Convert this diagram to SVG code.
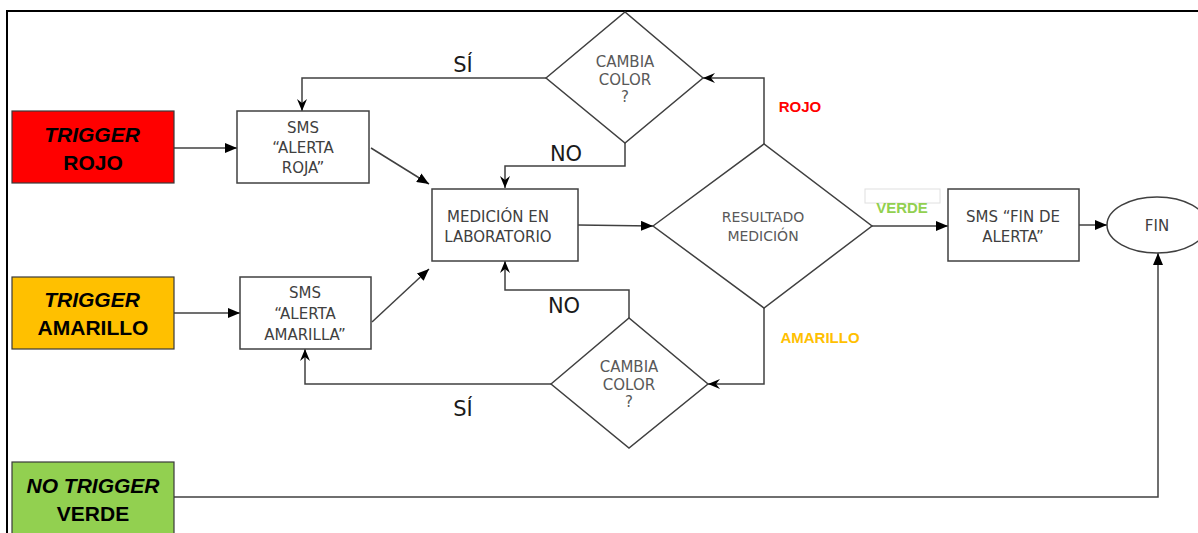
<svg xmlns="http://www.w3.org/2000/svg" width="1198" height="533" viewBox="0 0 1198 533">
  <style>
    .box { fill: #ffffff; stroke: #404040; stroke-width: 1.5; }
    .trig { stroke: #3a3a3a; stroke-width: 1.2; }
    .line { fill: none; stroke: #404040; stroke-width: 1.5; }
    .ttxt { font-family: "Liberation Sans", Arial, sans-serif; font-weight: bold; font-size: 21px; fill: #000; text-anchor: middle; }
    .btxt { font-family: "DejaVu Sans", sans-serif; font-size: 15px; fill: #404040; text-anchor: middle; }
    .dtxt { font-family: "DejaVu Sans", sans-serif; font-size: 14px; fill: #595959; text-anchor: middle; }
    .ctxt { font-family: "DejaVu Sans", sans-serif; font-size: 15px; fill: #595959; text-anchor: middle; }
    .lbl { font-family: "DejaVu Sans", sans-serif; font-size: 21px; fill: #1a1a1a; text-anchor: middle; }
    .clbl { font-family: "Liberation Sans", Arial, sans-serif; font-weight: bold; font-size: 15px; text-anchor: middle; }
  </style>
  <defs>
    <marker id="tri" viewBox="0 0 12 10" refX="12" refY="5" markerWidth="12" markerHeight="10" markerUnits="userSpaceOnUse" orient="auto">
      <path d="M0,0 L12,5 L0,10 Z" fill="#000"/>
    </marker>
    <marker id="stealth" viewBox="0 0 12 10" refX="12" refY="5" markerWidth="12" markerHeight="10" markerUnits="userSpaceOnUse" orient="auto">
      <path d="M0,0 L12,5 L0,10 L4,5 Z" fill="#000"/>
    </marker>
  </defs>

  <rect width="1198" height="533" fill="#ffffff"/>
  <!-- page frame -->
  <path d="M7,533 L7,11 L1198,11" fill="none" stroke="#000" stroke-width="2"/>

  <g id="connectors">
    <line class="line" x1="174" y1="148" x2="237" y2="148" marker-end="url(#tri)"/>
    <line class="line" x1="174" y1="313" x2="240" y2="313" marker-end="url(#tri)"/>
    <line class="line" x1="371" y1="148" x2="429" y2="184" marker-end="url(#tri)"/>
    <line class="line" x1="372" y1="322" x2="429" y2="269" marker-end="url(#tri)"/>
    <line class="line" x1="578" y1="225" x2="653" y2="226" marker-end="url(#tri)"/>
    <line class="line" x1="872" y1="226" x2="948" y2="226" marker-end="url(#tri)"/>
    <line class="line" x1="1079" y1="225" x2="1107" y2="225" marker-end="url(#tri)"/>
    <!-- ROJO branch -->
    <polyline class="line" points="764,144 764,78 703,78" marker-end="url(#stealth)"/>
    <polyline class="line" points="546,78 302,78 302,111" marker-end="url(#stealth)"/>
    <polyline class="line" points="625,143 625,166 505,166 505,188" marker-end="url(#stealth)"/>
    <!-- AMARILLO branch -->
    <polyline class="line" points="764,308 764,384 708,384" marker-end="url(#stealth)"/>
    <polyline class="line" points="551,384 305,384 305,349" marker-end="url(#stealth)"/>
    <polyline class="line" points="629,318 629,290 505,290 505,261" marker-end="url(#stealth)"/>
    <!-- VERDE without trigger -->
    <polyline class="line" points="174,497 1158,497 1158,253" marker-end="url(#tri)"/>

    <text class="lbl" x="463" y="72">SÍ</text>
    <text class="lbl" x="566" y="161">NO</text>
    <text class="lbl" x="564" y="313">NO</text>
    <text class="lbl" x="463" y="416">SÍ</text>
    <text class="clbl" x="800" y="112" fill="#ff0000">ROJO</text>
    <text class="clbl" x="820" y="343" fill="#ffc000">AMARILLO</text>
    <rect x="865" y="189" width="75" height="14" fill="none" stroke="#e0e0e0" stroke-width="1"/>
    <text class="clbl" x="902" y="213" fill="#92d050">VERDE</text>
  </g>

  <g id="trigger-rojo">
    <rect class="trig" x="12" y="111" width="162" height="72" fill="#ff0000"/>
    <text class="ttxt" x="92" y="142" font-style="italic">TRIGGER</text>
    <text class="ttxt" x="93" y="170">ROJO</text>
  </g>
  <g id="trigger-amarillo">
    <rect class="trig" x="12" y="277" width="162" height="72" fill="#ffc000"/>
    <text class="ttxt" x="92" y="307" font-style="italic">TRIGGER</text>
    <text class="ttxt" x="93" y="335">AMARILLO</text>
  </g>
  <g id="no-trigger-verde">
    <rect class="trig" x="12" y="462" width="162" height="80" fill="#92d050"/>
    <text class="ttxt" x="93" y="493" font-style="italic">NO TRIGGER</text>
    <text class="ttxt" x="93" y="521">VERDE</text>
  </g>

  <g id="sms-roja">
    <rect class="box" x="237" y="111" width="132" height="72"/>
    <text class="btxt" x="303" y="133">SMS</text>
    <text class="btxt" x="303" y="153">“ALERTA</text>
    <text class="btxt" x="303" y="173">ROJA”</text>
  </g>
  <g id="sms-amarilla">
    <rect class="box" x="240" y="277" width="131" height="72"/>
    <text class="btxt" x="305" y="298">SMS</text>
    <text class="btxt" x="305" y="319">“ALERTA</text>
    <text class="btxt" x="305" y="340">AMARILLA”</text>
  </g>
  <g id="medicion">
    <rect class="box" x="432" y="189" width="146" height="72"/>
    <text class="btxt" x="498" y="222" font-size="16">MEDICIÓN EN</text>
    <text class="btxt" x="498" y="242" font-size="16">LABORATORIO</text>
  </g>
  <g id="resultado">
    <polygon class="box" points="653,226 764,144 872,226 764,308"/>
    <text class="dtxt" x="763" y="222">RESULTADO</text>
    <text class="dtxt" x="763" y="241">MEDICIÓN</text>
  </g>
  <g id="cambia-rojo">
    <polygon class="box" points="546,78 625,12 703,78 625,143"/>
    <text class="ctxt" x="625" y="67">CAMBIA</text>
    <text class="ctxt" x="625" y="85">COLOR</text>
    <text class="ctxt" x="625" y="102">?</text>
  </g>
  <g id="cambia-amarillo">
    <polygon class="box" points="551,384 629,318 708,384 629,448"/>
    <text class="ctxt" x="629" y="372">CAMBIA</text>
    <text class="ctxt" x="629" y="390">COLOR</text>
    <text class="ctxt" x="629" y="407">?</text>
  </g>
  <g id="sms-fin">
    <rect class="box" x="948" y="189" width="131" height="72"/>
    <text class="btxt" x="1013" y="222" font-size="16">SMS “FIN DE</text>
    <text class="btxt" x="1013" y="242" font-size="16">ALERTA”</text>
  </g>
  <g id="fin">
    <ellipse class="box" cx="1157" cy="225" rx="50" ry="28"/>
    <text class="btxt" x="1157" y="231" font-size="16">FIN</text>
  </g>
</svg>
